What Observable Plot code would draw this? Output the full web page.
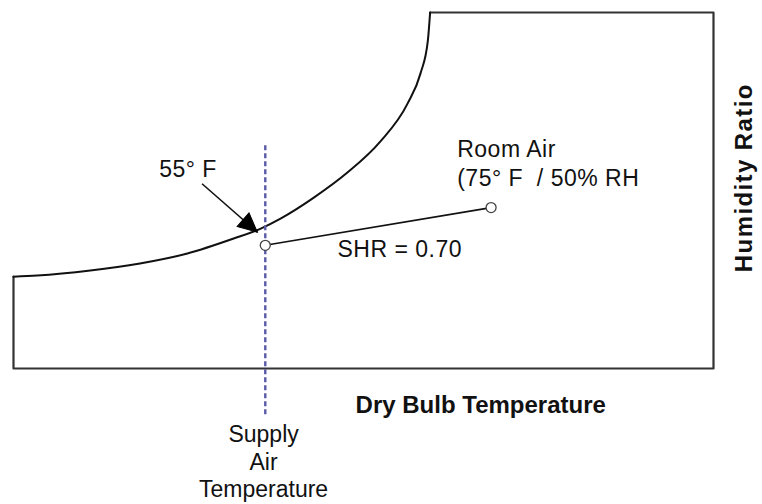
<!DOCTYPE html>
<html><head><meta charset="utf-8">
<script src="https://cdn.jsdelivr.net/npm/d3@7"></script>
<script src="https://cdn.jsdelivr.net/npm/@observablehq/plot@0.6"></script>
<style>body{margin:0;background:#fff}</style>
</head><body><div id="chart"></div>
<script>
// Saturation curve (dry bulb °F, humidity ratio – schematic units)
const saturationTemp = [32.7, 34.8, 39.5, 43.9, 48.1, 52.2, 54.6, 56.35, 59.3, 62.3, 65.2, 67.6, 68.75, 69.4, 69.6];
const saturationW    = [25.8, 26.1, 27.5, 29.5, 32.3, 36.5, 39.3, 42.1, 48.0, 55.1, 63.8, 74.4, 82.9, 92.1, 100];
// Chart boundary
const frameTemp = [69.6, 94.7, 94.7, 32.7, 32.7];
const frameW    = [100, 100, 0, 0, 25.8];
// States
const stateNames = ["Supply", "Room"];
const stateTemp = [55, 75];
const stateW = [34.6, 45.2];
// Supply air temperature guide
const guideTemp = 55;
const guideW = [62.6, -13.5];
// 55°F pointer
const arrowTemp = [49.4, 54.3];
const arrowW = [51.9, 38.3];
// Annotations
const labels = ["55° F", "Room Air", "(75° F\u00a0\u00a0/ 50% RH", "SHR = 0.70"];
const labelTemp = [45.6, 72.0, 72.0, 61.4];
const labelW = [53.7, 59.3, 51.4, 31.3];
const xTitle = "Dry Bulb Temperature";
const xTitlePos = [63.0, -12.6];
const yTitle = "Humidity Ratio";
const yTitlePos = [97.4, 53.6];
const guideLabel = "Supply\nAir\nTemperature";
const guideLabelPos = [54.85, -15.3];

const xDomain = [32.7, 94.7], yDomain = [0, 100];
const W = 762, H = 504, mL = 13, mR = 49, mT = 12, mB = 136;

const curve = saturationTemp.map((t, i) => ({t, w: saturationW[i]}));
const frame = frameTemp.map((t, i) => ({t, w: frameW[i]}));
const states = stateNames.map((n, i) => ({n, t: stateTemp[i], w: stateW[i]}));
const labelData = labels.map((s, i) => ({s, t: labelTemp[i], w: labelW[i]}));

// arrow direction in pixel space
const xs = d3.scaleLinear(xDomain, [mL, W - mR]);
const ys = d3.scaleLinear(yDomain, [H - mB, mT]);
const ang = Math.atan2(ys(arrowW[1]) - ys(arrowW[0]), xs(arrowTemp[1]) - xs(arrowTemp[0])) * 180 / Math.PI;
const headSymbol = {draw(ctx) { ctx.moveTo(0, 0); ctx.lineTo(-9, 19); ctx.lineTo(9, 19); ctx.closePath(); }};

const plot = Plot.plot({
  width: W, height: H,
  marginLeft: mL, marginRight: mR, marginTop: mT, marginBottom: mB,
  x: {domain: xDomain, axis: null},
  y: {domain: yDomain, axis: null},
  style: {fontFamily: "'Liberation Sans', Arial, sans-serif", background: "#fff", overflow: "visible"},
  marks: [
    Plot.line(frame, {x: "t", y: "w", stroke: "#333", strokeWidth: 2.2}),
    Plot.line(curve, {x: "t", y: "w", curve: "monotone-x", stroke: "#111", strokeWidth: 2}),
    Plot.ruleX([guideTemp], {y1: guideW[0], y2: guideW[1], stroke: "#5a5aaa", strokeWidth: 2.4, strokeDasharray: "5,3"}),
    Plot.line(states, {x: "t", y: "w", stroke: "#111", strokeWidth: 1.6}),
    Plot.link([0], {x1: arrowTemp[0], y1: arrowW[0], x2: arrowTemp[1], y2: arrowW[1], stroke: "#111", strokeWidth: 1.6}),
    Plot.dot([0], {x: () => arrowTemp[1], y: () => arrowW[1], symbol: headSymbol, r: 6, fill: "#000", stroke: "#000", strokeWidth: 1, rotate: ang + 90}),
    Plot.dot(states, {x: "t", y: "w", r: 5, fill: "#fff", stroke: "#444", strokeWidth: 1.3}),
    Plot.text(labelData, {x: "t", y: "w", text: "s", textAnchor: "start", lineAnchor: "bottom", fontSize: 23, fill: "#111"}),
    Plot.text([xTitle], {x: xTitlePos[0], y: xTitlePos[1], text: d => d, textAnchor: "start", lineAnchor: "bottom", fontSize: 24, fontWeight: "bold", fill: "#111"}),
    Plot.text([yTitle], {x: yTitlePos[0], y: yTitlePos[1], text: d => d, rotate: -90, textAnchor: "middle", lineAnchor: "middle", fontSize: 24, fontWeight: "bold", fill: "#111"}),
    Plot.text([guideLabel], {x: guideLabelPos[0], y: guideLabelPos[1], text: d => d, textAnchor: "middle", lineAnchor: "top", lineHeight: 1.19, fontSize: 23, fill: "#111"})
  ]
});
const sel = d3.select(plot).selectAll("text");
sel.filter(function() { return this.textContent === yTitle; }).style("letter-spacing", "1.4px");
sel.filter(function() { return labels.includes(this.textContent); }).style("letter-spacing", "0.5px");
document.getElementById("chart").appendChild(plot);
</script>
</body></html>
